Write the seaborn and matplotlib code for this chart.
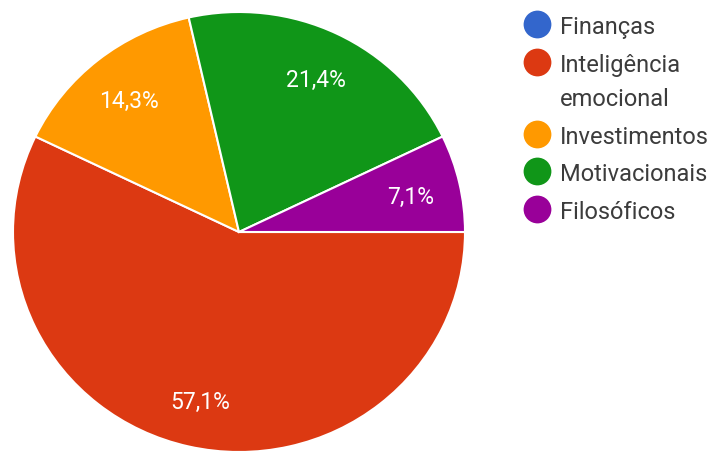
import matplotlib
matplotlib.use("Agg")
import matplotlib.pyplot as plt
import seaborn as sns

# Survey answers: preferred book genre
categories = ["Finanças", "Inteligência\nemocional", "Investimentos", "Motivacionais", "Filosóficos"]
counts = [0, 8, 2, 3, 1]
colors = ["#3366CC", "#DC3912", "#FF9900", "#109618", "#990099"]

sns.set_theme(style="white")
plt.rcParams["font.family"] = ["Roboto", "DejaVu Sans"]

W, H, DPI = 719, 452, 100
fig = plt.figure(figsize=(W / DPI, H / DPI), dpi=DPI)
ax = fig.add_axes([0, 0, 1, 1])

# pie geometry in pixels (slightly flattened vertically)
cx, cy, rx, ry = 239, 233, 226, 220

shown = [(c, v, col) for c, v, col in zip(categories, counts, colors) if v > 0]
vals = [v for _, v, _ in shown]
cols = [col for _, _, col in shown]


def fmt(pct):
    return f"{pct:.1f}".replace(".", ",") + "%"


wedges, texts, autotexts = ax.pie(
    vals,
    colors=cols,
    startangle=0,
    counterclock=False,
    autopct=fmt,
    pctdistance=0.78,
    wedgeprops=dict(edgecolor="white", linewidth=1.5),
    textprops=dict(color="white", fontsize=16.5),
)
for t in autotexts:
    t.set_va("center_baseline")

ax.set_aspect("auto")
ax.set_xlim(-cx / rx, (W - cx) / rx)
ax.set_ylim(-(H - cy) / ry, cy / ry)
ax.axis("off")

# legend drawn at fixed pixel positions
mx, tx = 537, 560
rows = [25, 63, 135, 172, 210]
for cat, col, y in zip(categories, colors, rows):
    ax.scatter([mx / W], [1 - y / H], s=400, color=col, transform=fig.transFigure,
               clip_on=False, zorder=5, linewidths=0)
    for i, line in enumerate(cat.split("\n")):
        fig.text(tx / W, 1 - (y + 34 * i) / H, line, fontsize=17,
                 color="#3c3c3c", va="center_baseline", ha="left")

fig.savefig("out.png", dpi=DPI)
